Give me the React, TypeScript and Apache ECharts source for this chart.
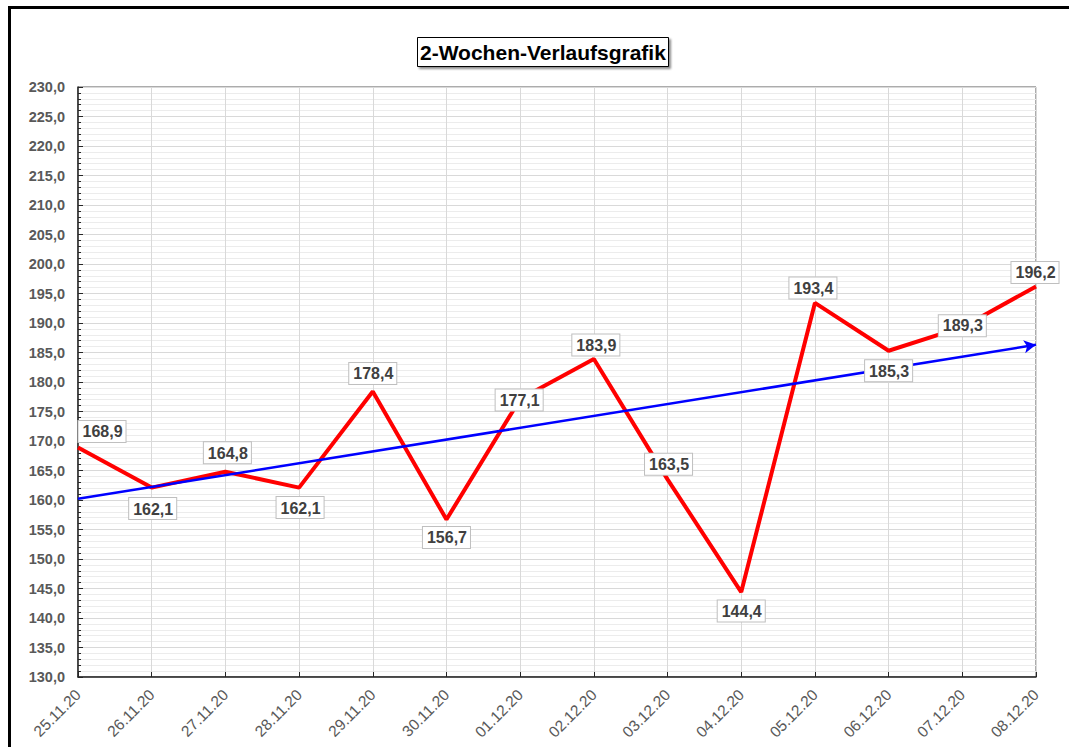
import React, { useEffect, useRef } from "react";
import * as echarts from "echarts";

const categories = [
  "25.11.20", "26.11.20", "27.11.20", "28.11.20", "29.11.20", "30.11.20", "01.12.20",
  "02.12.20", "03.12.20", "04.12.20", "05.12.20", "06.12.20", "07.12.20", "08.12.20",
];
const values = [168.9, 162.1, 164.8, 162.1, 178.4, 156.7, 177.1, 183.9, 163.5, 144.4, 193.4, 185.3, 189.3, 196.2];
const trendStart = 160.2;
const trendEnd = 186.3;
const titleText = "2-Wochen-Verlaufsgrafik";
const yMin = 130;
const yMax = 230;
const yStep = 5;

// label placement (style only)
const labelPlacement: { position: string; distance?: number; offset?: number[] }[] = [
  { position: "top", distance: 5, offset: [24, 0] },
  { position: "bottom", distance: 10, offset: [1, 0] },
  { position: "top", distance: 8, offset: [2, 0] },
  { position: "bottom", distance: 9, offset: [1, 0] },
  { position: "top", distance: 7, offset: [0, 0] },
  { position: "bottom", distance: 7, offset: [0, 0] },
  { position: "inside", offset: [-1, 1] },
  { position: "top", distance: 3, offset: [2, 0] },
  { position: "inside", offset: [1, -15] },
  { position: "bottom", distance: 8, offset: [0, 0] },
  { position: "top", distance: 4, offset: [-2, 0] },
  { position: "bottom", distance: 9, offset: [0, 0] },
  { position: "inside", offset: [0, -1.5] },
  { position: "top", distance: 3, offset: [-1, 0] },
];

const fmt = (v: number) => v.toFixed(1).replace(".", ",");

export default function App() {
  const ref = useRef<HTMLDivElement>(null);
  useEffect(() => {
    document.body.style.margin = "0";
    const chart = echarts.init(ref.current!, null, { renderer: "svg" });
    const font = "'Liberation Sans', Arial, sans-serif";
    const labelData = values.map((v, i) => ({
      value: [categories[i], v],
      label: {
        show: true,
        position: labelPlacement[i].position,
        distance: labelPlacement[i].distance ?? 5,
        offset: labelPlacement[i].offset,
      },
    }));
    chart.setOption({
      animation: false,
      backgroundColor: "#ffffff",
      title: {
        text: titleText,
        left: 417,
        top: 37,
        padding: [5, 3, 4, 3],
        borderColor: "#000000",
        borderWidth: 1,
        backgroundColor: "#ffffff",
        shadowColor: "rgba(0,0,0,0.45)",
        shadowOffsetX: 2,
        shadowOffsetY: 2,
        shadowBlur: 2,
        textStyle: { fontFamily: font, fontSize: 21, fontWeight: "bold", color: "#000000" },
      },
      graphic: [
        {
          type: "rect",
          shape: { x: 9.5, y: 7.5, width: 1100, height: 800 },
          style: { fill: "none", stroke: "#000000", lineWidth: 3 },
          silent: true,
        },
      ],
      grid: {
        left: 78,
        top: 87,
        right: 33,
        bottom: 70,
        show: true,
        borderColor: "#595959",
        borderWidth: 1,
        containLabel: false,
      },
      xAxis: {
        type: "category",
        data: categories,
        boundaryGap: false,
        axisLine: { show: true, lineStyle: { color: "#262626", width: 1.5 } },
        axisTick: { show: true, inside: true, length: 5, lineStyle: { color: "#262626" } },
        axisLabel: {
          rotate: 45,
          margin: 15,
          color: "#595959",
          fontFamily: font,
          fontSize: 15.5,
          interval: 0,
        },
        splitLine: { show: true, lineStyle: { color: "#d9d9d9", width: 1 } },
      },
      yAxis: {
        type: "value",
        min: yMin,
        max: yMax,
        interval: yStep,
        axisLine: { show: true, lineStyle: { color: "#262626", width: 1.5 } },
        axisTick: { show: true, inside: true, length: 5, lineStyle: { color: "#262626" } },
        minorTick: { show: true, splitNumber: 5, length: 3, lineStyle: { color: "#262626" } },
        axisLabel: {
          formatter: (v: number) => fmt(v),
          margin: 13,
          color: "#595959",
          fontFamily: font,
          fontSize: 14.5,
          fontWeight: "bold",
        },
        splitLine: { show: true, lineStyle: { color: "#d9d9d9", width: 1 } },
        minorSplitLine: { show: true, lineStyle: { color: "#ececec", width: 1 } },
      },
      series: [
        {
          name: "Verlauf",
          type: "line",
          data: values,
          z: 2,
          symbol: "none",
          lineStyle: { color: "#ff0000", width: 4 },
          itemStyle: { color: "#ff0000" },
        },
        {
          name: "Trend",
          type: "line",
          data: [],
          z: 3,
          symbol: "none",
          markLine: {
            silent: true,
            symbol: ["none", "arrow"],
            symbolSize: [10, 12],
            label: { show: false },
            lineStyle: { color: "#0000ff", width: 2.5, type: "solid" },
            data: [
              [
                { coord: [categories[0], trendStart] },
                { coord: [categories[categories.length - 1], trendEnd] },
              ],
            ],
          },
        },
        {
          name: "Werte",
          type: "scatter",
          data: labelData,
          z: 5,
          symbol: "circle",
          symbolSize: 1,
          itemStyle: { color: "transparent", opacity: 1 },
          label: {
            show: true,
            formatter: (p: any) => fmt(p.value[1]),
            color: "#404040",
            fontFamily: font,
            fontSize: 16,
            fontWeight: "bold",
            backgroundColor: "#ffffff",
            borderColor: "#bfbfbf",
            borderWidth: 1,
            padding: [3, 3, 2, 4],
            opacity: 1,
          },
        },
      ],
    });
    return () => chart.dispose();
  }, []);
  return <div ref={ref} style={{ width: 1069, height: 747 }} />;
}
